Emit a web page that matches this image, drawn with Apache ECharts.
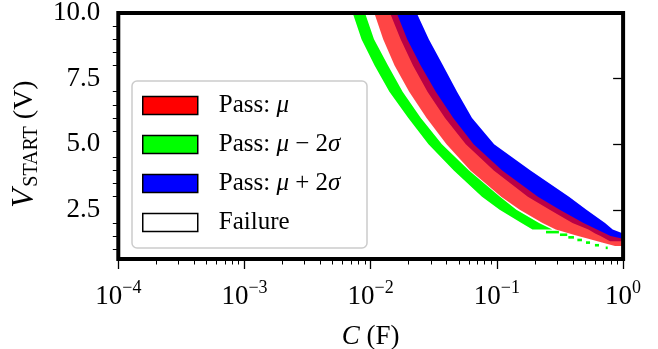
<!DOCTYPE html>
<html>
<head>
<meta charset="utf-8">
<script src="https://cdn.jsdelivr.net/npm/echarts@6/dist/echarts.min.js"></script>
<style>
  html, body { margin: 0; padding: 0; background: #fff; }
  #chart { width: 658px; height: 349px; }
</style>
</head>
<body>
<div id="chart"></div>
<script>
// each row: [V_START (V), C at low edge (F), C at high edge (F)]
const greenRows = [
  [10, 0.00720, 0.00901],
  [9, 0.00846, 0.01062],
  [8, 0.01074, 0.01371],
  [7, 0.01407, 0.01790],
  [6, 0.01986, 0.02495],
  [5, 0.02871, 0.03666],
  [4, 0.04555, 0.0601],
  [3, 0.0762, 0.1058],
  [2.5, 0.1052, 0.1427],
  [2, 0.1567, 0.2157],
  [1.75, 0.1914, 0.2748],
]
// lone green cells at the low-voltage tail
const greenTail = [
  [1.65, 0.245, 0.310],
  [1.55, 0.316, 0.361],
  [1.45, 0.368, 0.408],
  [1.35, 0.434, 0.472],
  [1.25, 0.508, 0.547],
  [1.15, 0.598, 0.644],
  [1.05, 0.728, 0.755],
]
const redRows = [
  [10, 0.01068, 0.01607],
  [9, 0.01256, 0.01946],
  [8, 0.01546, 0.02490],
  [7, 0.02018, 0.0328],
  [6, 0.02773, 0.0451],
  [5, 0.03988, 0.0654],
  [4, 0.0617, 0.1102],
  [3, 0.1081, 0.2113],
  [2.5, 0.1517, 0.3145],
  [2, 0.2298, 0.4855],
  [1.75, 0.2924, 0.621],
  [1.5, 0.4393, 0.795],
  [1.4, 0.53, 1.0],
  [1.25, 0.6805, 1.0],
  [1.12, 0.863, 1.0],
]
const blueRows = [
  [10, 0.01422, 0.02314],
  [9, 0.01726, 0.02887],
  [8, 0.02163, 0.03741],
  [7, 0.02818, 0.0483],
  [6, 0.03880, 0.0635],
  [5, 0.05671, 0.095],
  [4, 0.0945, 0.1846],
  [3, 0.1758, 0.3726],
  [2.5, 0.262, 0.512],
  [2, 0.3972, 0.719],
  [1.75, 0.531, 0.827],
  [1.6, 0.60, 1.0],
  [1.5, 0.662, 1.0],
  [1.3, 0.787, 1.0],
]

const legendNames = ['Pass: μ', 'Pass: μ − 2σ', 'Pass: μ + 2σ', 'Failure']
const legendColors = ['#ff0000', '#00ff00', '#0000ff', '#ffffff']
const vTicks = [2.5, 5.0, 7.5, 10.0]
const vMinorTicks = [1, 1.5, 2, 3, 3.5, 4, 4.5, 5.5, 6, 6.5, 7, 8, 8.5, 9, 9.5]
const cDecades = [-4, -3, -2, -1]

const serif = 'Liberation Serif'
const G = { left: 118.3, top: 13, width: 504.8, height: 246 }

// minor ticks of the log axis, in log10 units
const cMinorTicks = []
cDecades.forEach((d) => {
  for (let k = 2; k <= 9; k++) cMinorTicks.push(d + Math.log10(k))
})

function txt(size, extra) {
  return Object.assign({ fontFamily: serif, fontSize: size, color: '#000' }, extra || {})
}

function bandSeries(name, rows, fill) {
  return {
    name: name,
    type: 'custom',
    clip: true,
    encode: { x: [1, 2], y: 0 },
    itemStyle: { color: fill },
    data: rows,
    renderItem(params, api) {
      if (params.dataIndex !== 0) return null
      const lo = rows.map((r) => api.coord([r[1], r[0]]))
      const hi = rows.map((r) => api.coord([r[2], r[0]])).reverse()
      return {
        type: 'polygon',
        shape: { points: lo.concat(hi) },
        style: { fill: fill },
      }
    },
  }
}

const chart = echarts.init(document.getElementById('chart'))

chart.setOption({
  animation: false,
  grid: Object.assign({ outerBoundsMode: 'none', containLabel: false }, G),
  legend: {
    orient: 'vertical',
    left: 132,
    top: 81,
    z: 10,
    padding: [12, 18, 17, 10],
    itemWidth: 55,
    itemHeight: 18,
    itemGap: 14,
    selectedMode: false,
    itemStyle: { borderColor: '#000', borderWidth: 1.5 },
    textStyle: {
      fontSize: 25,
      color: '#000',
      padding: [0, 0, 0, 16],
      rich: {
        r: txt(25, { lineHeight: 20 }),
        m: txt(25, { fontStyle: 'italic', lineHeight: 20 }),
      },
    },
    formatter: (name) =>
      '{r|' + name.replace(/μ/g, '}{m|μ}{r|').replace(/σ/g, '}{m|σ}{r|') + '}',
    data: legendNames.map((n, i) => ({
      name: n,
      icon: 'rect',
      itemStyle: { color: legendColors[i], opacity: 1, borderColor: '#000', borderWidth: 1.5 },
    })),
  },
  xAxis: [
    {
      type: 'log',
      logBase: 10,
      min: 1e-4,
      max: 1,
      position: 'bottom',
      axisLine: { show: false },
      splitLine: { show: false },
      axisTick: { length: 10, lineStyle: { color: '#000', width: 1.3 } },
      axisLabel: {
        margin: 20,
        formatter: (v) => {
          const e = Math.round(Math.log10(v))
          return '{b|10}{s|' + (e < 0 ? '−' + -e : e) + '}'
        },
        rich: {
          b: txt(27, { lineHeight: 31, verticalAlign: 'bottom' }),
          s: txt(18, { lineHeight: 18, verticalAlign: 'top' }),
        },
      },
      name: '{i|C}{r| (F)}',
      nameLocation: 'middle',
      nameGap: 64,
      nameTextStyle: {
        fontSize: 26,
        rich: { i: txt(27, { fontStyle: 'italic' }), r: txt(27) },
      },
    },
    {
      type: 'value',
      min: -4,
      max: 0,
      position: 'bottom',
      axisLine: { show: false },
      splitLine: { show: false },
      axisLabel: { show: false },
      axisTick: { length: 5.5, customValues: cMinorTicks, lineStyle: { color: '#000', width: 1 } },
    },
  ],
  yAxis: [
    {
      type: 'value',
      min: 0.625,
      max: 10,
      position: 'left',
      axisLine: { show: false },
      splitLine: { show: false },
      axisTick: { length: 10, customValues: vTicks, lineStyle: { color: '#000', width: 1.3 } },
      axisLabel: {
        margin: 18,
        customValues: vTicks,
        formatter: (v) => '{t|' + v.toFixed(1) + '}',
        rich: { t: txt(27) },
      },
      name: '{i|V}{s|START}{r| (V)}',
      nameLocation: 'middle',
      nameRotate: 90,
      nameGap: 67,
      nameTextStyle: {
        fontSize: 27,
        rich: {
          i: txt(31, { fontStyle: 'italic' }),
          s: txt(20, { padding: [15, 0, 0, 2] }),
          r: txt(28, { padding: [0, 16, 0, 0] }),
        },
      },
    },
    {
      type: 'value',
      min: 0.625,
      max: 10,
      position: 'left',
      axisLine: { show: false },
      splitLine: { show: false },
      axisLabel: { show: false },
      axisTick: { length: 5.5, customValues: vMinorTicks, lineStyle: { color: '#000', width: 1 } },
    },
  ],
  graphic: [
    {
      type: 'rect',
      z: 100,
      silent: true,
      shape: { x: G.left, y: G.top, width: G.width, height: G.height },
      style: { fill: 'none', stroke: '#000', lineWidth: 4 },
    },
    {
      // legend frame
      type: 'rect',
      z: 5,
      silent: true,
      shape: { x: 132, y: 81, width: 235, height: 167, r: 5 },
      style: { fill: 'rgba(255,255,255,0.8)', stroke: '#cccccc', lineWidth: 1.5 },
    },
  ],
  series: [
    bandSeries('Pass: μ − 2σ', greenRows, '#00ff00'),
    {
      name: 'Pass: μ − 2σ',
      type: 'custom',
      clip: true,
      encode: { x: [1, 2], y: 0 },
      itemStyle: { color: '#00ff00' },
      data: greenTail,
      renderItem(params, api) {
        const v = api.value(0)
        const p0 = api.coord([api.value(1), v + 0.05])
        const p1 = api.coord([api.value(2), v - 0.05])
        return {
          type: 'rect',
          shape: { x: p0[0], y: p0[1], width: p1[0] - p0[0], height: p1[1] - p0[1] },
          style: { fill: '#00ff00' },
        }
      },
    },
    bandSeries('Pass: μ + 2σ', blueRows, '#0000ff'),
    bandSeries('Pass: μ', redRows, 'rgba(255,0,0,0.73)'),
    { name: 'Failure', type: 'custom', itemStyle: { color: '#ffffff' }, data: [], renderItem: () => null },
  ],
})
</script>
</body>
</html>
